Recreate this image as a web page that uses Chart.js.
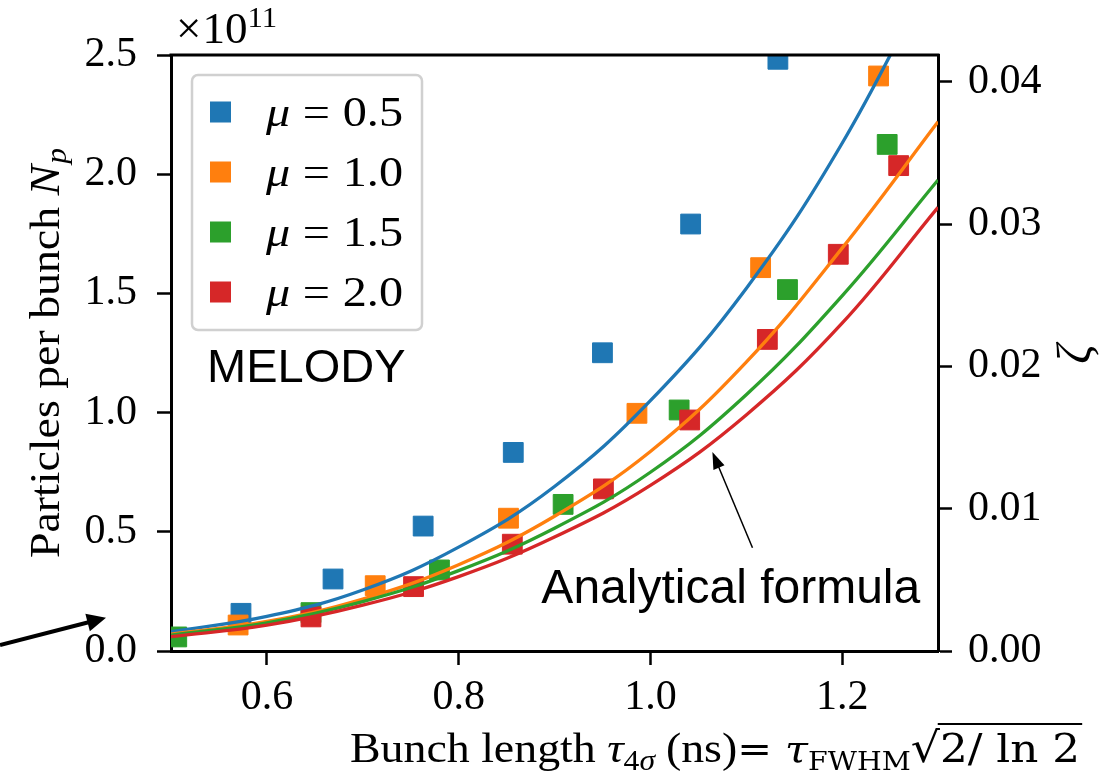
<!DOCTYPE html>
<html>
<head>
<meta charset="utf-8">
<script src="https://cdn.jsdelivr.net/npm/chart.js@4.4.1/dist/chart.umd.min.js"></script>
<style>
  html, body { margin: 0; padding: 0; background: #ffffff; }
  canvas { display: block; }
</style>
</head>
<body>
<canvas id="chart" width="1115" height="779"></canvas>
<script>
// ---- Simulated bunches: bunch length tau_4sigma (ns) vs particles per bunch (x1e11) ----
const muValues = ['0.5', '1.0', '1.5', '2.0'];

const tauMu05 = [0.573, 0.669, 0.763, 0.857, 0.950, 1.042, 1.133];
const npMu05  = [0.158, 0.302, 0.524, 0.833, 1.251, 1.791, 2.482];

const tauMu10 = [0.570, 0.713, 0.852, 0.986, 1.115, 1.238];
const npMu10  = [0.109, 0.274, 0.557, 0.997, 1.608, 2.412];

const tauMu15 = [0.506, 0.646, 0.780, 0.909, 1.030, 1.143, 1.247];
const npMu15  = [0.059, 0.161, 0.340, 0.615, 1.011, 1.516, 2.125];

const tauMu20 = [0.646, 0.753, 0.856, 0.951, 1.041, 1.122, 1.196, 1.259];
const npMu20  = [0.143, 0.270, 0.448, 0.680, 0.969, 1.307, 1.664, 2.036];

// ---- Analytical formula: zeta vs bunch length, sampled along each curve ----
const curveTau = [0.5, 0.6, 0.7, 0.8, 0.9, 1.0, 1.1, 1.2, 1.3];
const zetaMu05 = [0.00136, 0.00243, 0.00429, 0.00730, 0.01156, 0.01759, 0.02548, 0.03568, 0.04842];
const zetaMu10 = [0.00119, 0.00208, 0.00365, 0.00606, 0.00947, 0.01402, 0.02030, 0.02831, 0.03719];
const zetaMu15 = [0.00112, 0.00198, 0.00347, 0.00565, 0.00863, 0.01256, 0.01801, 0.02496, 0.03310];
const zetaMu20 = [0.00101, 0.00181, 0.00322, 0.00523, 0.00801, 0.01164, 0.01659, 0.02304, 0.03118];

// ---- Axis ticks ----
const tauTicks  = [0.6, 0.8, 1.0, 1.2];
const npTicks   = [0.0, 0.5, 1.0, 1.5, 2.0, 2.5];
const zetaTicks = [0.00, 0.01, 0.02, 0.03, 0.04];
const tauRange  = [0.5, 1.3];
const npRange   = [0, 2.5];
const zetaRange = [0, 0.041883];

// ---- Styles ----
const palette = ['#1f77b4', '#ff7f0e', '#2ca02c', '#d62728'];
const SERIF = '"Liberation Serif", "DejaVu Serif", serif';
const MATH  = '"DejaVu Serif", "Liberation Serif", serif';
const SANS  = '"Liberation Sans", Arial, sans-serif';

const pts = (xs, ys) => xs.map((x, i) => ({ x: x, y: ys[i] }));

const measured = [[tauMu05, npMu05], [tauMu10, npMu10], [tauMu15, npMu15], [tauMu20, npMu20]];
const analytic = [zetaMu05, zetaMu10, zetaMu15, zetaMu20];

const datasets = [];
measured.forEach(([xs, ys], i) => {
  datasets.push({
    type: 'scatter',
    label: '\u03bc = ' + muValues[i],
    data: pts(xs, ys),
    yAxisID: 'y',
    pointStyle: 'rect',
    pointRadius: 14,
    pointHoverRadius: 14,
    backgroundColor: palette[i],
    borderColor: palette[i],
    borderWidth: 1,
    order: 8 - i
  });
});
analytic.forEach((zs, i) => {
  datasets.push({
    type: 'line',
    label: 'analytic \u03bc = ' + muValues[i],
    data: pts(curveTau, zs),
    yAxisID: 'y2',
    showLine: true,
    pointRadius: 0,
    borderColor: palette[i],
    borderWidth: 3.3,
    fill: false,
    tension: 0.4,
    order: 4 - i
  });
});

// draws a sequence of text runs with mixed fonts / sub- and superscripts
function runsWidth(ctx, runs) {
  let w = 0;
  runs.forEach(r => { ctx.font = r.f; w += ctx.measureText(r.t).width + (r.gap || 0); });
  return w;
}
function drawRuns(ctx, runs, x, y, target, align) {
  const w = runsWidth(ctx, runs);
  const sx = target ? target / w : 1;
  ctx.save();
  ctx.translate(x, y);
  ctx.scale(sx, 1);
  let cx = align === 'center' ? -w / 2 : 0;
  runs.forEach(r => {
    ctx.font = r.f;
    const tw = ctx.measureText(r.t).width;
    ctx.fillText(r.t, cx, r.dy || 0);
    if (r.over) {
      ctx.save();
      ctx.lineWidth = 2;
      ctx.beginPath();
      ctx.moveTo(cx - 2, -r.over);
      ctx.lineTo(cx + tw + 2, -r.over);
      ctx.stroke();
      ctx.restore();
    }
    cx += tw + (r.gap || 0);
  });
  ctx.restore();
}
function arrow(ctx, x0, y0, x1, y1, lw, headLen, headHalf) {
  const dx = x1 - x0, dy = y1 - y0, L = Math.hypot(dx, dy);
  const ux = dx / L, uy = dy / L;
  const bx = x1 - ux * headLen, by = y1 - uy * headLen;
  ctx.lineWidth = lw;
  ctx.beginPath();
  ctx.moveTo(x0, y0);
  ctx.lineTo(bx + ux * 1, by + uy * 1);
  ctx.stroke();
  ctx.beginPath();
  ctx.moveTo(x1, y1);
  ctx.lineTo(bx - uy * headHalf, by + ux * headHalf);
  ctx.lineTo(bx + uy * headHalf, by - ux * headHalf);
  ctx.closePath();
  ctx.fill();
}

const decorations = {
  id: 'decorations',
  afterDraw(chart) {
    const ctx = chart.ctx;
    const a = chart.chartArea;
    const sx = chart.scales.x, sy = chart.scales.y;
    ctx.save();
    ctx.fillStyle = '#000';
    ctx.strokeStyle = '#000';
    ctx.textBaseline = 'alphabetic';
    ctx.textAlign = 'left';

    // top spine closing the frame
    ctx.lineWidth = 3;
    ctx.beginPath();
    ctx.moveTo(a.left - 1.5, a.top);
    ctx.lineTo(a.right + 1.5, a.top);
    ctx.stroke();

    // legend
    const lx = a.left + 21, ly = a.top + 20, lw = 230, lh = 255;
    ctx.save();
    ctx.beginPath();
    ctx.roundRect(lx, ly, lw, lh, 6);
    ctx.fillStyle = 'rgba(255,255,255,0.85)';
    ctx.fill();
    ctx.lineWidth = 2.5;
    ctx.strokeStyle = '#d0d0d0';
    ctx.stroke();
    ctx.restore();
    muValues.forEach((m, i) => {
      const cy = ly + 37 + i * 60;
      ctx.fillStyle = palette[i];
      ctx.fillRect(lx + 18, cy - 10.5, 21, 21);
      ctx.fillStyle = '#000';
      drawRuns(ctx, [
        { t: '\u03bc', f: 'italic 42px ' + SERIF, gap: 11 },
        { t: '=', f: '42px ' + SERIF, gap: 11 },
        { t: m, f: '42px ' + SERIF }
      ], lx + 74, cy + 14, 137);
    });

    // in-plot labels
    ctx.font = '47px ' + SANS;
    ctx.fillText('MELODY', sx.getPixelForValue(0.5376), sy.getPixelForValue(1.128));
    ctx.font = '48px ' + SANS;
    ctx.fillText('Analytical formula', sx.getPixelForValue(0.8863), sy.getPixelForValue(0.203));

    // arrow to the analytical curves
    arrow(ctx, sx.getPixelForValue(1.1065), sy.getPixelForValue(0.433),
               sx.getPixelForValue(1.0647), sy.getPixelForValue(0.835), 1.5, 17, 6);

    // arrow from the left margin
    arrow(ctx, 0, 645, 106, 617.7, 4, 19, 9);

    // offset text of the left axis
    drawRuns(ctx, [
      { t: '\u00d7', f: '44px ' + SERIF, gap: 1 },
      { t: '10', f: '44px ' + SERIF },
      { t: '11', f: '30px ' + SERIF, dy: -16 }
    ], a.left + 5, 43, 101);

    // left axis title
    ctx.save();
    ctx.translate(59, (a.top + a.bottom) / 2);
    ctx.rotate(-Math.PI / 2);
    drawRuns(ctx, [
      { t: 'Particles per bunch ', f: '42px ' + SERIF },
      { t: 'N', f: 'italic 42px ' + SERIF, gap: 1 },
      { t: 'p', f: 'italic 29px ' + SERIF, dy: 7 }
    ], 0, 0, 410, 'center');
    ctx.restore();

    // right axis title
    ctx.save();
    ctx.translate(1090, 354);
    ctx.rotate(-Math.PI / 2);
    ctx.font = 'italic 48px ' + SERIF;
    ctx.textAlign = 'center';
    ctx.fillText('\u03b6', 0, 0);
    ctx.restore();

    // bottom axis title
    drawRuns(ctx, [
      { t: 'Bunch length ', f: '42px ' + SERIF },
      { t: '\u03c4', f: 'italic 42px ' + SERIF },
      { t: '4', f: '29px ' + SERIF, dy: 8 },
      { t: '\u03c3', f: 'italic 29px ' + SERIF, dy: 8, gap: 10 },
      { t: '(ns)', f: '42px ' + SERIF },
      { t: '= ', f: '38px ' + MATH },
      { t: '\u03c4', f: 'italic 38px ' + MATH },
      { t: 'FWHM', f: '26px ' + MATH, dy: 8 },
      { t: '\u221a', f: '42px ' + MATH },
      { t: '2/ ln 2', f: '40px ' + MATH, over: 38 }
    ], 350, 762, 730);

    ctx.restore();
  }
};

new Chart(document.getElementById('chart'), {
  type: 'scatter',
  data: { datasets: datasets },
  options: {
    responsive: false,
    animation: false,
    devicePixelRatio: 1,
    layout: { padding: { top: 55, left: 0, right: 0, bottom: 0 } },
    plugins: { legend: { display: false }, tooltip: { enabled: false } },
    font: { family: SERIF },
    scales: {
      x: {
        type: 'linear',
        position: 'bottom',
        min: tauRange[0], max: tauRange[1],
        afterBuildTicks: s => { s.ticks = tauTicks.map(v => ({ value: v })); },
        afterFit: s => { s.height = 128; },
        grid: { drawOnChartArea: false, drawTicks: true, tickLength: 14, tickWidth: 2.5, tickColor: '#000' },
        border: { display: true, width: 3, color: '#000' },
        ticks: {
          autoSkip: false, maxRotation: 0, padding: 8, color: '#000',
          font: { family: SERIF, size: 42 },
          callback: v => Number(v).toFixed(1)
        }
      },
      y: {
        type: 'linear',
        position: 'left',
        min: npRange[0], max: npRange[1],
        afterBuildTicks: s => { s.ticks = npTicks.map(v => ({ value: v })); },
        afterFit: s => { s.width = 171; },
        grid: { drawOnChartArea: false, drawTicks: true, tickLength: 14, tickWidth: 2.5, tickColor: '#000' },
        border: { display: true, width: 3, color: '#000' },
        ticks: {
          autoSkip: false, padding: 20, color: '#000',
          font: { family: SERIF, size: 42 },
          callback: v => Number(v).toFixed(1)
        }
      },
      y2: {
        type: 'linear',
        position: 'right',
        min: zetaRange[0], max: zetaRange[1],
        afterBuildTicks: s => { s.ticks = zetaTicks.map(v => ({ value: v })); },
        afterFit: s => { s.width = 177; },
        grid: { drawOnChartArea: false, drawTicks: true, tickLength: 14, tickWidth: 2.5, tickColor: '#000' },
        border: { display: true, width: 3, color: '#000' },
        ticks: {
          autoSkip: false, padding: 16, color: '#000',
          font: { family: SERIF, size: 42 },
          callback: v => Number(v).toFixed(2)
        }
      }
    }
  },
  plugins: [decorations]
});
</script>
</body>
</html>
